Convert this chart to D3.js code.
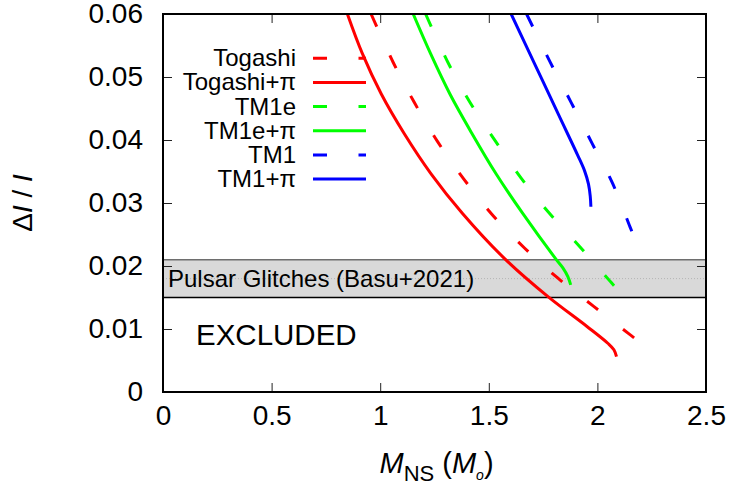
<!DOCTYPE html>
<html>
<head>
<meta charset="utf-8">
<script src="https://cdn.jsdelivr.net/npm/d3@7/dist/d3.min.js"></script>
<style>
  html, body { margin: 0; padding: 0; background: #fff; }
  svg { display: block; font-family: "Liberation Sans", Arial, Helvetica, sans-serif; }
</style>
</head>
<body>
<svg id="chart" width="731" height="489"></svg>
<script>
// Fractional moment-of-inertia change dI/I versus neutron-star mass
const xTicks = [0, 0.5, 1, 1.5, 2, 2.5];
const yTicks = [0, 0.01, 0.02, 0.03, 0.04, 0.05, 0.06];

// [M_NS, dI/I]
const togashiPi = [[0.849,0.0600],[0.918,0.0537],[1.005,0.0473],[1.111,0.0410],[1.235,0.0346],[1.380,0.0283],[1.575,0.0211],[1.774,0.0151],[1.952,0.0104],[2.049,0.0077],[2.076,0.0067],[2.088,0.0056]];
const togashi   = [[0.958,0.0600],[1.060,0.0523],[1.158,0.0459],[1.265,0.0397],[1.385,0.0338],[1.517,0.0281],[1.663,0.0229],[1.817,0.0181],[1.983,0.0136],[2.150,0.0091],[2.180,0.0083]];
const tm1ePi    = [[1.152,0.0600],[1.232,0.0537],[1.321,0.0473],[1.423,0.0410],[1.534,0.0346],[1.657,0.0283],[1.809,0.0211],[1.841,0.0197],[1.864,0.0183],[1.877,0.0170]];
const tm1e      = [[1.209,0.0600],[1.312,0.0523],[1.413,0.0460],[1.529,0.0399],[1.648,0.0340],[1.778,0.0284],[1.918,0.0231],[2.058,0.0176],[2.081,0.0167]];
const tm1Pi     = [[1.603,0.0600],[1.711,0.0521],[1.820,0.0441],[1.909,0.0376],[1.941,0.0351],[1.959,0.0330],[1.967,0.0311],[1.970,0.0294]];
const tm1       = [[1.674,0.0600],[1.782,0.0524],[1.880,0.0459],[1.975,0.0395],[2.070,0.0331],[2.148,0.0264],[2.162,0.0252]];

const seriesNames  = ["Togashi", "Togashi+\u03c0", "TM1e", "TM1e+\u03c0", "TM1", "TM1+\u03c0"];
const seriesColors = ["#ff0000", "#ff0000", "#00ff00", "#00ff00", "#0000ff", "#0000ff"];
const seriesDashed = [true, false, true, false, true, false];
const seriesData   = [togashi, togashiPi, tm1e, tm1ePi, tm1, tm1Pi];

// Glitch constraint band
const bandLow = 0.015, bandHigh = 0.021, bandMid = 0.018;
const bandLabel = "Pulsar Glitches (Basu+2021)";
const excludedLabel = "EXCLUDED";

const svg = d3.select("#chart");
const plotLeft = 163, plotRight = 706, plotTop = 14, plotBottom = 392;
const dashPattern = "14,31.5";

const x = d3.scaleLinear().domain([0, 2.5]).range([plotLeft, plotRight]);
const y = d3.scaleLinear().domain([0, 0.06]).range([plotBottom, plotTop]);

svg.append("defs").append("clipPath").attr("id", "plot-clip")
  .append("rect").attr("x", plotLeft).attr("y", plotTop)
  .attr("width", plotRight - plotLeft).attr("height", plotBottom - plotTop);

// band
svg.append("rect")
  .attr("x", plotLeft).attr("y", y(bandHigh))
  .attr("width", plotRight - plotLeft).attr("height", y(bandLow) - y(bandHigh))
  .attr("fill", "#d9d9d9");
svg.append("line")
  .attr("x1", plotLeft).attr("x2", plotRight)
  .attr("y1", y(bandMid)).attr("y2", y(bandMid))
  .attr("stroke", "#b4b4b4").attr("stroke-width", 1).attr("stroke-dasharray", "1,2");
svg.append("line")
  .attr("x1", plotLeft).attr("x2", plotRight)
  .attr("y1", y(bandHigh)).attr("y2", y(bandHigh))
  .attr("stroke", "#6e6e6e").attr("stroke-width", 1.5);
svg.append("line")
  .attr("x1", plotLeft).attr("x2", plotRight)
  .attr("y1", y(bandLow)).attr("y2", y(bandLow))
  .attr("stroke", "#000").attr("stroke-width", 1.5);

svg.append("text")
  .attr("x", plotLeft + 5).attr("y", y(bandMid) + 8.5)
  .attr("font-size", 24).attr("fill", "#000")
  .text(bandLabel);

svg.append("text")
  .attr("x", 196).attr("y", 345)
  .attr("font-size", 29.5).attr("fill", "#000")
  .text(excludedLabel);

// axes with inward ticks on all four sides
const tickLen = 9;
function styleAxis(g) {
  g.select(".domain").remove();
  g.selectAll(".tick line").attr("stroke", "#222").attr("stroke-width", 1);
  g.selectAll(".tick text").attr("fill", "#000").attr("font-size", 28)
    .attr("font-family", "\"Liberation Sans\", Arial, sans-serif");
}
svg.append("g").attr("transform", `translate(0,${plotBottom})`)
  .call(d3.axisBottom(x).tickValues(xTicks).tickSize(-tickLen).tickPadding(13)
        .tickFormat(d3.format("")))
  .call(styleAxis);
svg.append("g").attr("transform", `translate(0,${plotTop})`)
  .call(d3.axisTop(x).tickValues(xTicks).tickSize(-tickLen).tickFormat(""))
  .call(styleAxis);
svg.append("g").attr("transform", `translate(${plotLeft},0)`)
  .call(d3.axisLeft(y).tickValues(yTicks).tickSize(-tickLen).tickPadding(20)
        .tickFormat(d => d3.format("")(+d.toFixed(2))))
  .call(styleAxis);
svg.append("g").attr("transform", `translate(${plotRight},0)`)
  .call(d3.axisRight(y).tickValues(yTicks).tickSize(-tickLen).tickFormat(""))
  .call(styleAxis);

// curves
const line = d3.line()
  .x(d => x(d[0])).y(d => y(d[1]))
  .curve(d3.curveCatmullRom.alpha(0.5));

const curves = svg.append("g").attr("clip-path", "url(#plot-clip)");
seriesData.forEach((data, i) => {
  curves.append("path")
    .datum(data)
    .attr("d", line)
    .attr("fill", "none")
    .attr("stroke", seriesColors[i])
    .attr("stroke-width", 3)
    .attr("stroke-dasharray", seriesDashed[i] ? dashPattern : null);
});

// legend
const legend = svg.append("g");
seriesNames.forEach((name, i) => {
  const ry = 58.3 + i * 24.15;
  legend.append("text")
    .attr("x", 296).attr("y", ry + 8)
    .attr("text-anchor", "end")
    .attr("font-size", 24).attr("fill", "#000")
    .text(name);
  legend.append("line")
    .attr("x1", 313).attr("x2", 366)
    .attr("y1", ry).attr("y2", ry)
    .attr("stroke", seriesColors[i]).attr("stroke-width", 3)
    .attr("stroke-dasharray", seriesDashed[i] ? dashPattern : null);
});

// frame
svg.append("rect")
  .attr("x", plotLeft).attr("y", plotTop)
  .attr("width", plotRight - plotLeft).attr("height", plotBottom - plotTop)
  .attr("fill", "none").attr("stroke", "#000").attr("stroke-width", 2);

// axis titles
const xLabel = svg.append("text")
  .attr("x", (plotLeft + plotRight) / 2 + 2).attr("y", 473)
  .attr("text-anchor", "middle")
  .attr("font-size", 29).attr("fill", "#000");
xLabel.append("tspan").attr("font-style", "italic").text("M");
xLabel.append("tspan").attr("font-size", 22).attr("dy", 8).text("NS");
xLabel.append("tspan").attr("dy", -8).text(" (");
xLabel.append("tspan").attr("font-style", "italic").text("M");
xLabel.append("tspan").attr("font-style", "italic").attr("font-size", 14).attr("dy", 7).text("o");
xLabel.append("tspan").attr("dy", -7).text(")");

const yLabel = svg.append("text")
  .attr("transform", `translate(32,${(plotTop + plotBottom) / 2}) rotate(-90)`)
  .attr("text-anchor", "middle")
  .attr("font-size", 28).attr("fill", "#000");
yLabel.append("tspan").text("\u0394");
yLabel.append("tspan").attr("font-style", "italic").text("I");
yLabel.append("tspan").text(" / ");
yLabel.append("tspan").attr("font-style", "italic").text("I");
</script>
</body>
</html>
